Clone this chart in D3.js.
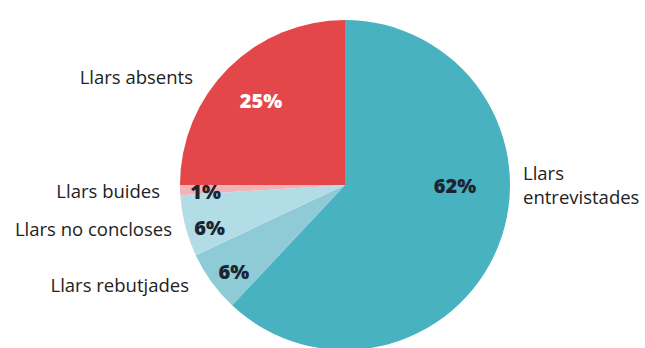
<!DOCTYPE html>
<html>
<head>
<meta charset="utf-8">
<script src="https://cdn.jsdelivr.net/npm/d3@7"></script>
<style>
  html, body { margin: 0; padding: 0; background: #fff; }
  svg { display: block; }
  text { font-family: "Open Sans", sans-serif; }
</style>
</head>
<body>
<svg id="chart" width="645" height="348"></svg>
<script>
// Household survey outcome shares (percent), clockwise from 12 o'clock
const categories = ["Llars entrevistades", "Llars rebutjades", "Llars no concloses", "Llars buides", "Llars absents"];
const values = [62, 6, 6, 1, 25];
const valueLabels = ["62%", "6%", "6%", "1%", "25%"];
const colors = ["#49b2c0", "#8fcad7", "#b3dde6", "#f1b3b5", "#e3474a"];

const width = 645, height = 348;
const cx = 345, cy = 185, radius = 165;

const svg = d3.select("#chart");
const g = svg.append("g").attr("transform", `translate(${cx},${cy})`);

const pie = d3.pie().sort(null).value(d => d.value);
const arcs = pie(categories.map((c, i) => ({ name: c, value: values[i], label: valueLabels[i], color: colors[i] })));
const arc = d3.arc().innerRadius(0).outerRadius(radius);

g.selectAll("path.slice")
  .data(arcs)
  .join("path")
  .attr("class", "slice")
  .attr("d", arc)
  .attr("fill", d => d.data.color);

// Percentage label placement: polar position (degrees clockwise from top, fraction of radius)
const labelAngle = [90, 232, 252.5, 267.5, 315];
const labelRadius = [0.667, 0.855, 0.86, 0.845, 0.72];
g.selectAll("text.pct")
  .data(arcs)
  .join("text")
  .attr("class", "pct")
  .attr("text-anchor", "middle")
  .attr("dominant-baseline", "central")
  .attr("font-weight", 800)
  .attr("font-size", 20)
  .attr("fill", (d, i) => i === 4 ? "#ffffff" : "#1c2430")
  .attr("transform", (d, i) => {
    const a = labelAngle[i] * Math.PI / 180;
    const r = radius * labelRadius[i];
    return `translate(${Math.sin(a) * r},${-Math.cos(a) * r})`;
  })
  .text(d => d.data.label);

// Category names outside the pie
const nameSpecs = [
  { lines: ["Llars", "entrevistades"], x: 523, y: 172, anchor: "start" },
  { lines: ["Llars rebutjades"], x: 189, y: 284, anchor: "end" },
  { lines: ["Llars no concloses"], x: 172, y: 228, anchor: "end" },
  { lines: ["Llars buides"], x: 160, y: 190, anchor: "end" },
  { lines: ["Llars absents"], x: 193, y: 76, anchor: "end" }
];
const names = svg.selectAll("text.name")
  .data(nameSpecs)
  .join("text")
  .attr("class", "name")
  .attr("font-size", 18.5)
  .attr("fill", "#222")
  .attr("text-anchor", d => d.anchor)
  .attr("dominant-baseline", "central")
  .attr("x", d => d.x)
  .attr("y", d => d.y);
names.selectAll("tspan")
  .data(d => d.lines.map((l, i) => ({ l, i, x: d.x })))
  .join("tspan")
  .attr("x", d => d.x)
  .attr("dy", d => d.i === 0 ? 0 : 24)
  .text(d => d.l);
</script>
</body>
</html>
